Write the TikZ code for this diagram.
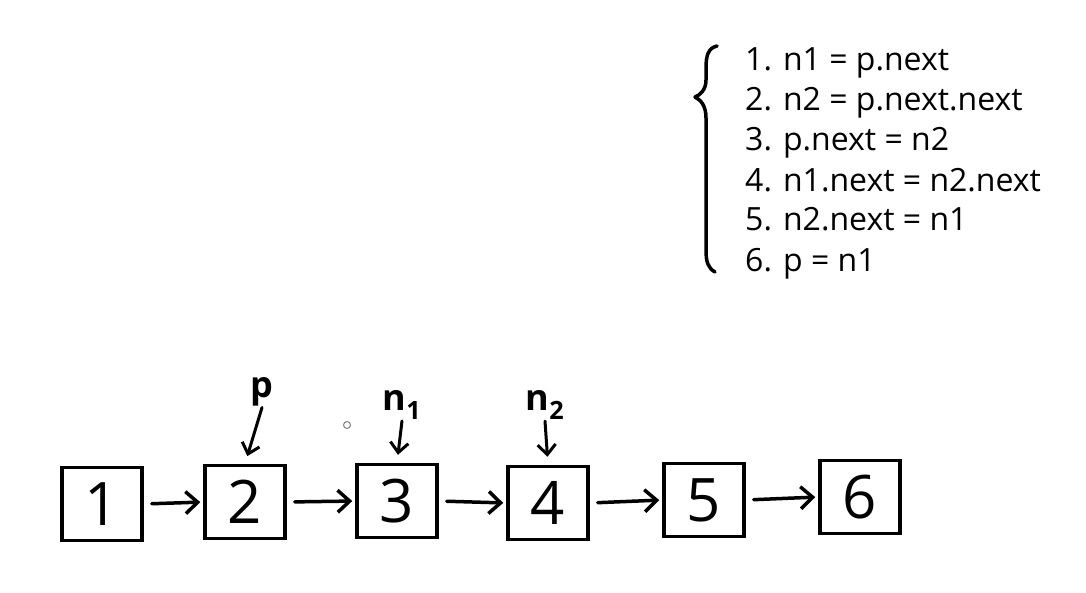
\documentclass[tikz,border=0pt]{standalone}
\usepackage{fontspec}
\setmainfont{Open Sans}
\usetikzlibrary{arrows.meta}
\begin{document}
\begin{tikzpicture}[x=1pt,y=-1pt,
  listitem/.style={anchor=base west,inner sep=0pt,font=\fontsize{32}{32}\selectfont},
  nodebox/.style={draw,line width=3.5pt,minimum width=80pt,minimum height=73pt,inner sep=0pt,font=\fontsize{60}{60}\selectfont},
  ptrlabel/.style={inner sep=1pt,font=\fontsize{36}{36}\selectfont\bfseries},
  link/.style={line width=3.5pt,-{Straight Barb[length=12pt,width=22pt,line width=3.5pt]},line cap=round,shorten <=8pt,shorten >=3pt},
  ptr/.style={line width=3pt,-{Straight Barb[length=10pt,width=18pt,line width=3pt]},line cap=round,shorten >=8pt}
]
\useasboundingbox (0,0) rectangle (1086,592);
% code list
\node[listitem] (l1) at (745,70) {1. n1 = p.next};
\node[listitem] (l2) at (745,110) {2. n2 = p.next.next};
\node[listitem] (l3) at (745,150) {3. p.next = n2};
\node[listitem] (l4) at (745,191) {4. n1.next = n2.next};
\node[listitem] (l5) at (745,230) {5. n2.next = n1};
\node[listitem] (l6) at (745,271) {6. p = n1};
% brace
\draw[line width=3.5pt,line cap=round,line join=round]
  (717,46) .. controls (708,48) and (706,56) .. (706,68)
  -- (706,80) .. controls (706,90) and (700,95) .. (695,97)
  .. controls (701,100) and (706,106) .. (706,118)
  -- (706,250) .. controls (706,262) and (708,268) .. (715,272);
% list nodes
\node[nodebox] (b1) at (102,504) {1};
\node[nodebox] (b2) at (245,502) {2};
\node[nodebox] (b3) at (397,501) {3};
\node[nodebox] (b4) at (548,503) {4};
\node[nodebox] (b5) at (704,500) {5};
\node[nodebox] (b6) at (860,497) {6};
\draw[link] (b1.east) -- (b2.west);
\draw[link] (b2.east) -- (b3.west);
\draw[link] (b3.east) -- (b4.west);
\draw[link] (b4.east) -- (b5.west);
\draw[link] (b5.east) -- (b6.west);
% pointers
\node[ptrlabel] (p) at (262,392) {p};
\node[ptrlabel] (n1) at (402,405) {n\textsubscript{1}};
\node[ptrlabel] (n2) at (545,405) {n\textsubscript{2}};
\draw[ptr] (p.south) -- (b2.north);
\draw[ptr] (n1.south) -- (b3.north);
\draw[ptr] (n2.south) -- (b4.north);
% small circle
\draw[gray,line width=1pt] (347,425) circle (3.5pt);
\end{tikzpicture}
\end{document}
